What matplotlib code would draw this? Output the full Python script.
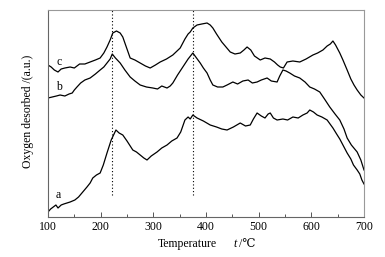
import matplotlib
matplotlib.use("Agg")
import matplotlib.pyplot as plt
from matplotlib.ticker import MultipleLocator

plt.rcParams['font.family'] = ['Liberation Serif', 'DejaVu Serif', 'DejaVu Sans']

# curve a (bottom)
t_a = [100, 105, 110, 115, 119, 125, 130, 136, 142, 151, 158, 166, 174, 180, 185, 192, 199,
       205, 212, 220, 229, 235, 242, 250, 261, 268, 275, 282, 288, 296, 307, 316, 326, 335,
       345, 352, 360, 366, 370, 375, 383, 395, 408, 420, 430, 440, 452, 465, 475, 484, 490,
       497, 505, 512, 518, 522, 528, 535, 546, 555, 565, 575, 584, 592, 597, 604, 611, 620,
       630, 641, 648, 654, 662, 668, 675, 680, 687, 692, 696, 700]
y_a = [5, 8, 10, 12, 9, 12, 13, 14, 15, 17, 20, 25, 30, 34, 39, 42, 44,
       52, 64, 77, 87, 84, 82, 76, 67, 65, 62, 59, 57, 61, 65, 69, 72, 76,
       79, 85, 97, 100, 98, 102, 99, 96, 92, 90, 88, 87, 90, 94, 91, 92, 98,
       104, 101, 99, 103, 104, 99, 97, 98, 97, 100, 99, 102, 104, 107, 105, 102, 100,
       97, 89, 83, 78, 70, 64, 58, 52, 47, 43, 37, 33]

# curve b (middle)
t_b = [100, 108, 116, 123, 132, 140, 146, 150, 155, 162, 170, 180, 190, 199, 206, 212, 218,
       222, 228, 237, 246, 256, 265, 275, 287, 299, 308, 316, 326, 332, 337, 346, 356, 366,
       375, 382, 389, 395, 402, 408, 413, 422, 432, 440, 451, 460, 470, 480, 488, 497, 505,
       516, 524, 535, 540, 546, 552, 559, 568, 578, 588, 597, 606, 616, 625, 635, 645, 654,
       662, 668, 676, 687, 694, 700]
y_b = [119, 120, 121, 122, 121, 123, 124, 127, 130, 134, 137, 139, 143, 147, 150, 154, 158,
       163, 159, 154, 147, 140, 136, 132, 130, 129, 128, 131, 129, 131, 134, 142, 150, 158,
       164, 159, 154, 149, 144, 137, 132, 130, 130, 132, 135, 133, 136, 137, 134, 135, 137,
       139, 136, 135, 141, 147, 146, 144, 141, 139, 135, 130, 128, 125, 118, 110, 103, 97,
       88, 79, 72, 65, 57, 47]

# curve c (top)
t_c = [100, 106, 112, 119, 125, 132, 142, 150, 160, 170, 180, 190, 199, 206, 212, 218, 223,
       230, 237, 242, 246, 250, 256, 265, 275, 285, 294, 304, 313, 325, 337, 345, 351, 360,
       366, 370, 375, 383, 392, 402, 408, 413, 420, 430, 438, 446, 455, 465, 472, 478, 485,
       492, 503, 512, 522, 530, 536, 541, 547, 554, 565, 578, 590, 603, 612, 622, 630, 636,
       641, 646, 654, 660, 668, 675, 681, 687, 694, 700]
y_c = [152, 150, 147, 145, 148, 149, 150, 149, 153, 153, 155, 157, 159, 164, 170, 177, 184,
       186, 184, 180, 174, 168, 159, 157, 154, 151, 149, 152, 155, 158, 162, 166, 169, 178,
       183, 185, 189, 192, 193, 194, 192, 189, 183, 175, 170, 165, 163, 164, 167, 170, 167,
       161, 157, 159, 158, 155, 152, 150, 149, 155, 156, 155, 158, 162, 164, 167, 171, 173,
       176, 172, 164, 157, 147, 138, 132, 127, 122, 119]

labels = ['a', 'b', 'c']
label_t = [119, 121, 121]
label_y = [22, 130, 155]

peaks = [221, 375]

fig = plt.figure(figsize=(3.85, 2.57), dpi=100)
ax = fig.add_axes([48 / 385, 1 - 217 / 257, 316 / 385, 207 / 257])

for t, y in [(t_a, y_a), (t_b, y_b), (t_c, y_c)]:
    ax.plot(t, y, color='black', lw=0.9)

for p in peaks:
    ax.plot([p, p], [22, 207], color='black', lw=0.8, ls=(0, (1, 2)))

for lab, t, y in zip(labels, label_t, label_y):
    ax.text(t, y, lab, fontsize=8.5, ha='center', va='center')

ax.set_xlim(100, 700)
ax.set_ylim(0, 207)
ax.xaxis.set_major_locator(MultipleLocator(100))
ax.xaxis.set_minor_locator(MultipleLocator(50))
ax.tick_params(axis='x', which='major', direction='in', length=3.5, width=0.7,
               labelsize=8.5, pad=3, color='#555555')
ax.tick_params(axis='x', which='minor', direction='in', length=2, width=0.7, color='#555555')
ax.set_yticks([])
for s in ax.spines.values():
    s.set_color('#999999')
    s.set_linewidth(0.8)
ax.spines['bottom'].set_color('#666666')
ax.spines['left'].set_color('#666666')

fig.text(187.5 / 385, 1 - 244 / 257, 'Temperature', fontsize=8.5, ha='center', va='center')
fig.text(235 / 385, 1 - 244 / 257, 't', fontsize=8.5, style='italic', ha='center', va='center')
fig.text(239 / 385, 1 - 244 / 257, '/\u2103', fontsize=8.5, ha='left', va='center')
fig.text(28 / 385, 1 - 111 / 257, 'Oxygen desorbed /(a.u.)', fontsize=8.5, rotation=90,
         ha='center', va='center')

fig.savefig('out.png', dpi=100)
